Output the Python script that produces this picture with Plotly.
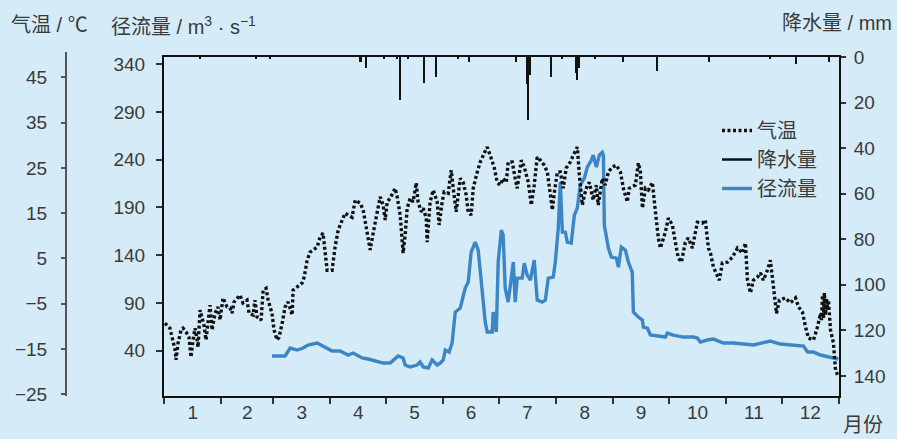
import plotly.graph_objects as go
import numpy as np

# ---------------- data ----------------
month_labels = ["1", "2", "3", "4", "5", "6", "7", "8", "9", "10", "11", "12"]
month_lengths = [31, 28, 31, 30, 31, 30, 31, 31, 30, 31, 30, 31]

temp_day = [0.5, 3.2, 6.0, 6.5, 7.6, 9.2, 10.3, 11.9, 13.5, 14.6, 15.7, 16.8, 17.9, 18.4, 19.5, 20.6,
            21.6, 22.7, 24.9, 26.0, 27.6, 29.2, 30.3, 31.9, 34.1, 35.7, 36.8, 37.9, 39.5, 41.1, 42.7,
            44.9, 46.0, 48.2, 49.2, 50.3, 52.5, 53.6, 55.2, 56.3, 58.4, 59.5, 61.1, 62.2, 63.9, 65.5,
            67.1, 68.2, 69.3, 69.8, 72.0, 74.7, 75.8, 77.4, 79.0, 82.8, 84.4, 86.0, 88.2, 90.9, 92.5,
            94.2, 97.9, 101.7, 103.4, 106.1, 107.7, 110.4, 111.5, 113.1, 116.9, 118.5, 119.6, 120.7,
            122.3, 125.0, 126.1, 127.7, 129.3, 130.4, 131.5, 133.1, 134.7, 136.4, 137.4, 139.1, 140.2,
            141.8, 142.3, 143.9, 145.6, 147.7, 148.8, 150.4, 151.5, 153.7, 155.3, 156.4, 158.0, 160.2,
            161.8, 163.4, 164.5, 166.1, 167.2, 169.4, 171.0, 173.2, 174.8, 176.9, 178.6, 180.2, 181.8,
            183.4, 185.1, 186.1, 188.3, 189.9, 191.0, 193.2, 194.8, 197.0, 198.6, 200.2, 201.8, 203.5,
            205.6, 207.3, 208.9, 210.0, 211.0, 212.7, 214.3, 215.9, 217.5, 219.7, 221.3, 223.5, 224.6,
            226.2, 227.3, 228.9, 230.0, 232.1, 233.8, 234.8, 237.0, 238.6, 240.3, 242.4, 244.6, 246.8,
            248.4, 250.5, 251.6, 254.9, 256.5, 257.6, 258.7, 260.3, 261.9, 264.1, 264.6, 265.7, 267.3,
            268.4, 271.1, 272.7, 274.9, 276.5, 278.1, 279.8, 281.9, 283.5, 285.7, 288.4, 291.1, 292.7,
            294.4, 295.5, 297.1, 300.3, 301.9, 304.7, 307.4, 310.1, 312.8, 314.4, 315.5, 317.1, 318.7,
            320.9, 322.5, 324.1, 326.3, 327.9, 329.5, 331.2, 332.8, 336.0, 338.7, 341.5, 343.1, 345.2,
            346.9, 348.5, 351.2, 353.4, 355.0, 355.5, 356.1, 356.6, 357.1, 357.7, 358.2, 358.8, 359.3,
            360.4, 362.0, 363.1, 364.2]
temp_val = [-9.3, -10.4, -15.2, -17.4, -13.7, -10.8, -10.4, -11.2, -12.4, -16.8, -13.0, -10.4, -13.0,
            -14.6, -6.4, -8.6, -9.7, -13.0, -5.3, -10.8, -7.1, -5.7, -8.6, -3.7, -5.7, -5.9, -7.1, -4.6,
            -3.7, -3.1, -4.8, -4.2, -7.1, -7.5, -4.2, -7.9, -8.6, -2.0, -1.6, -4.2, -7.1, -10.8, -13.0,
            -12.4, -9.3, -5.7, -4.6, -6.4, -7.5, -2.0, -1.3, -0.4, 0.9, 4.6, 6.4, 7.5, 9.7, 10.6, 2.4,
            2.4, 7.5, 11.3, 15.0, 14.1, 17.9, 17.2, 15.7, 9.1, 6.9, 10.6, 18.6, 16.8, 13.5, 17.5, 18.3,
            20.5, 18.6, 14.6, 6.2, 10.2, 16.1, 18.3, 17.5, 21.7, 17.5, 15.3, 16.1, 13.9, 8.6, 17.5, 20.1,
            17.5, 12.4, 17.5, 19.7, 19.4, 24.5, 20.5, 15.3, 22.7, 21.8, 19.0, 15.3, 14.6, 20.5, 24.1,
            26.3, 28.3, 29.6, 27.2, 25.0, 21.8, 21.2, 22.7, 21.8, 26.3, 26.3, 22.7, 20.5, 26.7, 25.2,
            21.8, 16.8, 21.2, 27.4, 26.7, 25.6, 24.1, 19.7, 15.7, 19.4, 24.1, 24.1, 20.5, 25.0, 26.3,
            27.8, 29.6, 23.4, 16.8, 19.0, 21.2, 21.8, 17.9, 21.2, 16.8, 22.7, 21.2, 24.1, 25.2, 25.6,
            24.1, 20.5, 17.5, 20.5, 21.2, 26.1, 24.1, 16.1, 20.5, 20.1, 21.8, 19.7, 15.3, 9.5, 7.3, 10.8,
            13.9, 12.4, 8.6, 5.1, 4.2, 8.6, 9.5, 7.3, 13.0, 12.8, 13.5, 7.3, 6.2, 3.1, 0.2, 4.0, 4.2, 5.3,
            7.3, 6.2, 8.4, 0.2, -2.6, 0.2, 0.9, 1.8, 0.2, 2.4, 4.6, -2.0, -7.1, -4.2, -3.7, -4.8, -3.7,
            -5.7, -6.8, -10.1, -12.6, -13.0, -10.1, -7.1, -8.6, -3.1, -8.2, -2.6, -7.5, -3.7, -6.4, -4.2,
            -10.8, -13.7, -19.6, -20.7]

runoff_day = [58.4, 65.5, 68.2, 72.0, 75.2, 77.9, 82.8, 86.0, 90.9, 95.2, 99.6, 102.3, 107.1, 110.4,
              115.3, 118.5, 122.3, 126.6, 129.3, 130.4, 133.1, 136.9, 138.5, 140.2, 142.9, 145.0, 147.7,
              149.4, 151.0, 152.1, 154.2, 155.8, 157.5, 160.2, 162.9, 164.5, 166.1, 168.3, 169.9, 172.1,
              173.7, 174.8, 177.5, 178.0, 179.7, 180.7, 182.4, 183.4, 184.5, 186.1, 188.9, 189.9, 191.0,
              193.7, 194.8, 196.4, 198.1, 200.2, 201.8, 204.5, 206.2, 207.8, 210.5, 211.6, 213.2, 214.3,
              215.4, 217.0, 218.1, 220.2, 221.9, 223.5, 225.1, 227.3, 228.9, 231.1, 232.1, 233.8, 235.4,
              237.0, 237.6, 238.1, 239.2, 240.3, 241.9, 244.6, 245.7, 247.3, 249.5, 251.1, 253.2, 253.8,
              256.5, 258.7, 259.2, 261.4, 263.0, 268.4, 271.1, 272.2, 275.4, 280.8, 286.3, 288.4, 290.0,
              293.8, 297.1, 302.5, 307.9, 318.7, 327.9, 333.3, 342.5, 345.8, 348.0, 351.2, 355.0, 358.8,
              362.0, 364.7]
runoff_val = [34.5, 34.5, 42.8, 40.7, 42.8, 46.0, 48.1, 44.9, 39.7, 39.7, 35.5, 37.6, 32.4, 31.3, 28.2,
              27.1, 27.1, 34.5, 32.4, 25.0, 23.0, 25.0, 28.2, 23.0, 21.9, 30.3, 25.0, 27.1, 30.3, 40.7,
              38.6, 48.1, 80.5, 84.7, 105.6, 111.9, 143.3, 153.7, 145.3, 105.6, 70.0, 59.6, 59.6, 80.5,
              59.6, 132.8, 166.3, 161.0, 105.6, 90.9, 132.8, 90.9, 116.0, 116.0, 131.7, 119.2, 113.9,
              134.9, 93.0, 90.9, 93.0, 116.0, 117.1, 132.8, 168.4, 216.5, 164.2, 164.2, 153.7, 152.7,
              182.0, 189.3, 213.3, 220.7, 232.2, 239.5, 244.7, 232.2, 244.7, 247.8, 244.7, 171.5, 160.0,
              147.4, 138.0, 136.9, 127.5, 148.5, 145.3, 132.8, 122.3, 80.5, 75.3, 72.1, 64.8, 63.7, 56.4,
              55.4, 54.3, 58.5, 56.4, 54.3, 54.3, 53.3, 49.1, 51.2, 52.2, 48.1, 48.1, 46.0, 50.1, 47.0,
              46.0, 44.9, 38.6, 38.6, 35.5, 33.4, 32.4, 31.3]

precip_day = [19.5, 50, 57.4, 106.4, 109.3, 119, 126, 127.7, 132, 140.9, 147, 159, 165.2, 190.3, 196.4,
              197.1, 197.8, 209.3, 215.4, 223, 223.6, 224.3, 233.2, 248.4, 266.6, 294.9, 327.9, 342, 359.9]
precip_val = [0.8, 0.6, 0.8, 2, 5, 1, 1, 19, 1, 11.4, 8.8, 0.8, 2.2, 2, 12, 27.5, 8, 8.8, 1, 7, 10, 5, 1,
              2, 6.3, 2.3, 1, 3, 2]

temp_ticks = [-25, -15, -5, 5, 15, 25, 35, 45]
runoff_ticks = [40, 90, 140, 190, 240, 290, 340]
precip_ticks = [0, 20, 40, 60, 80, 100, 120, 140]

# ---------------- derived ----------------
bounds = np.concatenate([[0], np.cumsum(month_lengths)])
mids = (bounds[:-1] + bounds[1:]) / 2

FONT = "Liberation Sans, Arial, Noto Sans CJK SC, sans-serif"
TXT = "#3a3a3a"
BG = "#d5ecf8"
BLUE = "#3d86c6"

fig = go.Figure()

fig.add_trace(go.Bar(
    x=precip_day, y=precip_val, yaxis="y3", width=0.9,
    marker=dict(color="#111111", line=dict(width=0)), showlegend=False, name="降水量"))

fig.add_trace(go.Scatter(
    x=runoff_day, y=runoff_val, yaxis="y", mode="lines",
    line=dict(color=BLUE, width=3.4), showlegend=False, name="径流量"))

fig.add_trace(go.Scatter(
    x=temp_day, y=temp_val, yaxis="y2", mode="lines",
    line=dict(color="#111111", width=3.4, dash="3px,2.5px"),
    name="气温"))

# legend helpers
fig.add_trace(go.Scatter(x=[None], y=[None], mode="lines", line=dict(color="#111111", width=2.5),
                         name="降水量"))
fig.add_trace(go.Scatter(x=[None], y=[None], mode="lines", line=dict(color=BLUE, width=3.4),
                         name="径流量"))

W, H = 897, 439
ml, mr, mt, mb = 50, 58, 57, 43
pw = W - ml - mr
ph = H - mt - mb

def px_x(p):
    return (p - ml) / pw

def px_y(p):
    return (H - mb - p) / ph

fig.update_layout(
    width=W, height=H,
    margin=dict(l=ml, r=mr, t=mt, b=mb),
    paper_bgcolor=BG, plot_bgcolor=BG,
    font=dict(family=FONT, size=19, color=TXT),
    bargap=0,
    xaxis=dict(
        domain=[px_x(164), 1], range=[0, 365], anchor="y",
        tickmode="array", tickvals=mids, ticktext=month_labels, ticks="",
        showgrid=False, zeroline=False,
        showline=True, linecolor="#111111", linewidth=2, mirror=True,
        minor=dict(tickmode="array", tickvals=bounds, ticks="outside", ticklen=6,
                   tickwidth=1.5, tickcolor="#333333", showgrid=False),
        ticklabelstandoff=-2,
    ),
    yaxis=dict(
        range=[-7.4, 347.5], tickmode="array", tickvals=runoff_ticks,
        ticks="outside", ticklen=6, tickwidth=1.5, tickcolor="#333333",
        showgrid=False, zeroline=False, showline=True, linecolor="#111111", linewidth=2,
        anchor="x", side="left", ticklabelstandoff=7,
    ),
    yaxis2=dict(
        range=[-25.375, 49.5], tickmode="array", tickvals=temp_ticks,
        ticks="outside", ticklen=5, tickwidth=1.5, tickcolor="#555555",
        showgrid=False, zeroline=False, showline=False,
        overlaying="y", anchor="free", position=px_x(66), side="left",
        ticklabelstandoff=10,
    ),
    yaxis3=dict(
        range=[148.8, 0], tickmode="array", tickvals=precip_ticks,
        ticks="outside", ticklen=5, tickwidth=1.5, tickcolor="#333333",
        showgrid=False, zeroline=False, showline=True, linecolor="#111111", linewidth=2,
        overlaying="y", anchor="x", side="right", ticklabelstandoff=4,
    ),
    legend=dict(
        x=px_x(717), y=px_y(111), xanchor="left", yanchor="top",
        bgcolor="rgba(0,0,0,0)", font=dict(size=20, color=TXT),
        tracegroupgap=0, itemwidth=30,
    ),
    showlegend=True,
)

# temperature axis line (extends slightly above plot box, like the reference)
fig.add_shape(type="line", xref="paper", yref="paper",
              x0=px_x(66), x1=px_x(66), y0=px_y(396), y1=px_y(52),
              line=dict(color="#555555", width=2))

ann = dict(xref="paper", yref="paper", showarrow=False, font=dict(size=20, color=TXT, family=FONT))
fig.add_annotation(text="气温 / ℃", x=px_x(9), y=px_y(25), xanchor="left", yanchor="middle", **ann)
fig.add_annotation(text="径流量 / m<sup>3</sup> · s<sup>−1</sup>", x=px_x(109), y=px_y(25),
                   xanchor="left", yanchor="middle", **ann)
fig.add_annotation(text="降水量 / mm", x=px_x(894), y=px_y(23), xanchor="right", yanchor="middle", **ann)
fig.add_annotation(text="月份", x=px_x(841), y=px_y(425), xanchor="left", yanchor="middle", **ann)

fig.write_html(
    "out.html",
    config={"displayModeBar": False},
    post_script=f"document.body.style.margin='0';document.body.style.background='{BG}';",
)
